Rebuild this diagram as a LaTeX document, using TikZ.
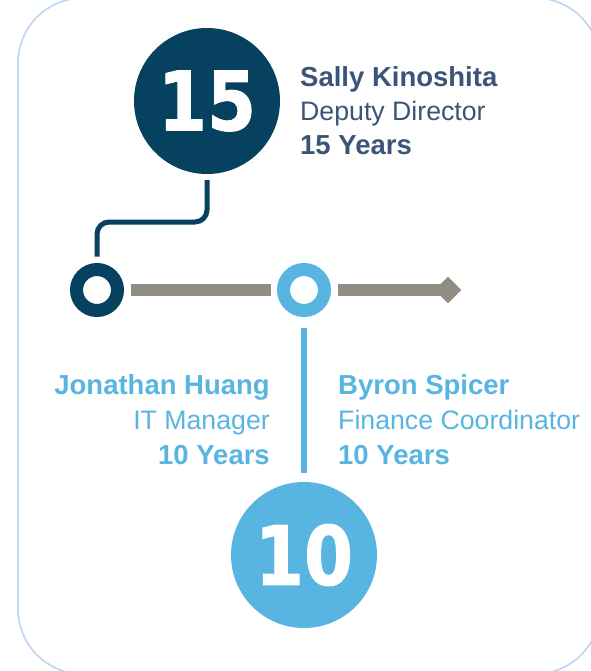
\documentclass[tikz,border=0pt]{standalone}
\usepackage{fontspec}
\setmainfont{Liberation Sans}
\newfontfamily\numfont{DejaVu Sans}[FakeBold=1.2]
\usetikzlibrary{shapes.geometric}
\definecolor{navy}{HTML}{06415F}
\definecolor{sky}{HTML}{58B5E1}
\definecolor{taupe}{HTML}{918D85}
\definecolor{frame}{HTML}{B5D5F2}
\definecolor{slate}{HTML}{3A5578}
\tikzset{
  bignum/.style={circle, inner sep=0pt, minimum size=146pt, text=white,
    font=\numfont\bfseries\fontsize{82}{82}\selectfont},
  ring/.style={circle, inner sep=0pt, minimum size=41pt, line width=13pt, fill=white, outer sep=13pt},
  bar/.style={draw=taupe, line width=12pt},
  lbl/.style={inner sep=0pt, font=\fontsize{26.7}{30}\selectfont},
  lblb/.style={inner sep=0pt, font=\bfseries\fontsize{27.5}{30}\selectfont},
}
\begin{document}
\begin{tikzpicture}[x=1pt,y=-1pt]
\useasboundingbox (0,0) rectangle (590,671);
% frame
\draw[frame, line width=1.5pt, rounded corners=65pt] (18,-2) rectangle (600,674);
% big circles
\node[bignum, fill=navy, outer sep=6pt] (c15) at (207,101) {\scalebox{0.86}[1]{15}};
\node[bignum, fill=sky, outer sep=9pt] (c10) at (304,555) {\scalebox{0.86}[1]{10}};
% rings
\node[ring, draw=navy] (r1) at (97,290) {};
\node[ring, draw=sky] (r2) at (304,290) {};
% arrow head
\node[diamond, fill=taupe, inner sep=0pt, minimum width=27pt, minimum height=27pt] (head) at (448,290) {};
% connectors
\draw[navy, line width=5pt, rounded corners=12pt] (c15.south) -- (207,222) -- (97,222) -- (r1.north);
\draw[bar] (r1.east) -- (r2.west);
\draw[bar] (r2.east) -- (head.center);
\draw[sky, line width=5.5pt, shorten <=4pt] (r2.south) -- (c10.north);
% labels
\node[lblb, text=slate, anchor=base west] (sn) at (300,87) {Sally Kinoshita};
\node[lbl, text=slate, anchor=base west] (st) at (300,121) {Deputy Director};
\node[lblb, text=slate, anchor=base west] (sy) at (300,155) {15 Years};
\node[lblb, text=sky, anchor=base east] (jn) at (270,394) {Jonathan Huang};
\node[lbl, text=sky, anchor=base east] (jt) at (270,429) {IT Manager};
\node[lblb, text=sky, anchor=base east] (jy) at (270,464) {10 Years};
\node[lblb, text=sky, anchor=base west] (bn) at (338,394) {Byron Spicer};
\node[lbl, text=sky, anchor=base west] (bt) at (338,429) {Finance Coordinator};
\node[lblb, text=sky, anchor=base west] (by) at (338,464) {10 Years};
\end{tikzpicture}
\end{document}
